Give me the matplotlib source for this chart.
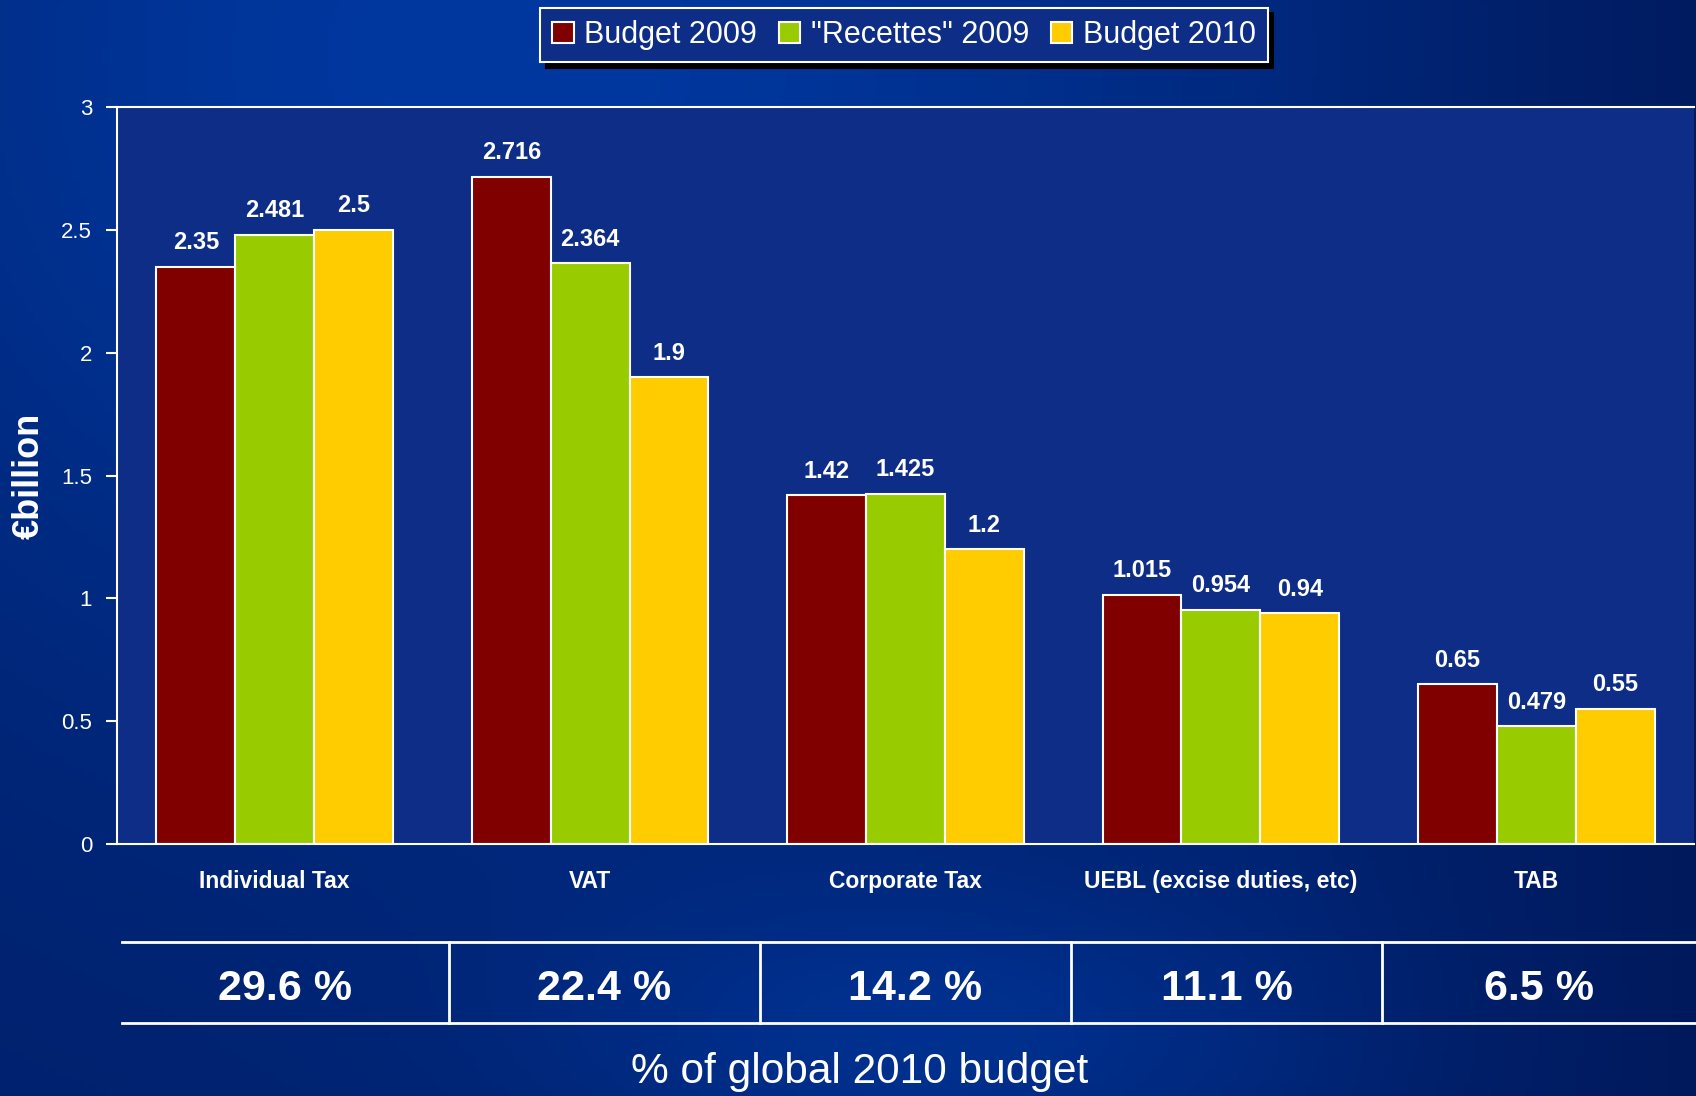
import numpy as np
import matplotlib
matplotlib.use("Agg")
import matplotlib.pyplot as plt

plt.rcParams['font.family'] = ['Liberation Sans', 'DejaVu Sans']

# data
categories = ['Individual Tax', 'VAT', 'Corporate Tax', 'UEBL (excise duties, etc)', 'TAB']
budget_2009 = [2.35, 2.716, 1.42, 1.015, 0.65]
recettes_2009 = [2.481, 2.364, 1.425, 0.954, 0.479]
budget_2010 = [2.5, 1.9, 1.2, 0.94, 0.55]
share_2010 = ['29.6 %', '22.4 %', '14.2 %', '11.1 %', '6.5 %']
series_names = ['Budget 2009', '"Recettes" 2009', 'Budget 2010']
series_colors = ['#800000', '#99cc00', '#ffcc00']

W, H = 1696, 1096
fig = plt.figure(figsize=(W / 100, H / 100), dpi=100)

# background gradient (slide)
bg = fig.add_axes([0, 0, 1, 1], zorder=-10)
yy, xx = np.mgrid[0:1:200j, 0:1:300j]
glow = np.exp(-((xx - 0.3) ** 2) / 0.2 - (yy - 0.05) ** 2 / 0.4)
glow2 = np.exp(-((xx - 0.55) ** 2) / 0.05 - (yy - 0.95) ** 2 / 0.02)
shade = np.clip(0.4 + 0.6 * glow + 0.35 * glow2 - 0.35 * np.clip(xx - 0.75, 0, 1) * 2, 0, 1)
top = np.array([0x00, 0x38, 0xa0]) / 255
low = np.array([0x00, 0x10, 0x48]) / 255
img = low + (top - low) * shade[..., None]
bg.imshow(img, aspect='auto', extent=[0, 1, 0, 1], origin='upper')
bg.set_axis_off()

ax = fig.add_axes([117 / W, 1 - 844 / H, (1694 - 117) / W, (844 - 107) / H])
ax.set_facecolor('#0d2d86')

x = np.arange(len(categories))
width = 0.25
for i, (vals, name, col) in enumerate(zip([budget_2009, recettes_2009, budget_2010], series_names, series_colors)):
    pos = x + (i - 1) * width
    bars = ax.bar(pos, vals, width, color=col, edgecolor='white', linewidth=1.5, label=name)
    for b, v in zip(bars, vals):
        ax.annotate(f'{v:g}', (b.get_x() + b.get_width() / 2, v), xytext=(0, 9),
                    textcoords='offset points', ha='center', va='bottom',
                    color='white', fontsize=17, fontweight='bold')

ax.set_xlim(-0.5, len(categories) - 0.5)
ax.set_ylim(0, 3)
ax.set_yticks([0, 0.5, 1, 1.5, 2, 2.5, 3])
ax.set_yticklabels(['0', '0.5', '1', '1.5', '2', '2.5', '3'])
ax.set_xticks(x)
ax.set_xticklabels(categories, fontweight='bold', fontsize=16.5)
ax.tick_params(axis='x', length=0, pad=19, colors='white')
ax.tick_params(axis='y', length=8, width=1.5, colors='white', labelsize=16, pad=10)
for s in ['left', 'bottom', 'top']:
    ax.spines[s].set_color('white')
    ax.spines[s].set_linewidth(1.5)
ax.spines['right'].set_visible(False)
ax.set_ylabel('€billion', color='white', fontsize=26, fontweight='bold', labelpad=10)

# legend
leg = fig.legend(loc='center', bbox_to_anchor=(904 / W, 1 - 35 / H), ncol=3,
                 fontsize=22, frameon=True, fancybox=False, handlelength=0.7,
                 handleheight=0.7, handletextpad=0.35, columnspacing=0.7,
                 borderpad=0.4, shadow={'color': 'black', 'alpha': 1, 'ox': 4, 'oy': -4})
leg.get_frame().set_facecolor('#0d2d86')
leg.get_frame().set_edgecolor('white')
leg.get_frame().set_linewidth(1.5)
leg.get_frame().set_alpha(1)
for t in leg.get_texts():
    t.set_color('white')

# share of 2010 budget table
line_y = [1 - 942 / H, 1 - 1023 / H]
for ly in line_y:
    fig.add_artist(plt.Line2D([122 / W, 1], [ly, ly], color='white', lw=2))
edges = [122, 449, 760, 1071, 1382, 1696]
for e in edges[1:-1]:
    fig.add_artist(plt.Line2D([e / W, e / W], line_y, color='white', lw=2))
for k, txt in enumerate(share_2010):
    cx = (edges[k] + edges[k + 1]) / 2 / W
    fig.text(cx, 1 - 984 / H, txt, ha='center', va='center_baseline', color='white',
             fontsize=31, fontweight='bold')

fig.text(860 / W, 1 - 1072 / H, '% of global 2010 budget', ha='center', va='center',
         color='white', fontsize=30.5)

fig.savefig('out.png', dpi=100)
